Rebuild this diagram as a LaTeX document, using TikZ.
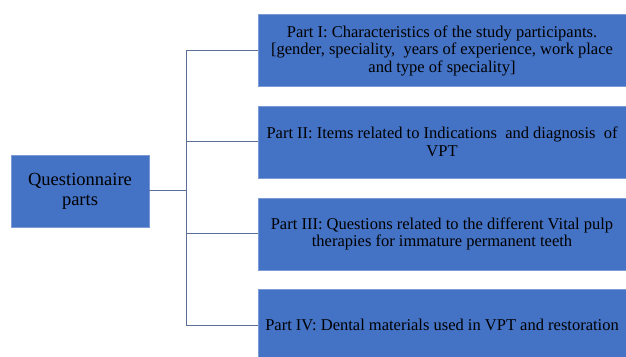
\documentclass[tikz,border=0pt]{standalone}
\usepackage{fontspec}
\setmainfont{Liberation Serif}
\definecolor{boxblue}{HTML}{4472C4}
\definecolor{boxedge}{HTML}{7C9AD6}
\definecolor{linkgrey}{HTML}{5A6E96}

\begin{document}
\begin{tikzpicture}[x=1pt, y=1pt,
    root node/.style={rectangle, draw=boxedge, fill=boxblue, line width=.8pt, minimum width=138pt, minimum height=72pt, align=center, inner sep=0pt,
        font=\fontsize{18.5}{20}\selectfont},
    part node/.style={rectangle, draw=boxedge, fill=boxblue, line width=.8pt, minimum width=368pt, minimum height=72pt, align=center, inner sep=0pt,
        font=\fontsize{16.5}{17.5}\selectfont},
    link/.style={draw=linkgrey, line width=1pt}]
\clip (0,0) rectangle (626,356);
\fill[white] (0,0) rectangle (626,356);

\node[root node] (quest) at (80,165) {Questionnaire\\parts};

\node[part node] (part1) at (442,305.5) {Part I: Characteristics of the study participants.\\
    {[}gender, speciality,\ \ years of experience, work place\\and type of speciality{]}};
\node[part node] (part2) at (442,214) {Part II: Items related to Indications\ \ and diagnosis\ \ of\\VPT};
\node[part node] (part3) at (442,122) {Part III: Questions related to the different Vital pulp\\therapies for immature permanent teeth};
\node[part node] (part4) at (442,31) {Part IV: Dental materials used in VPT and restoration};

% connectors
\coordinate (trunk) at (186,165);
\draw[link] (quest.east) -- (trunk);
\foreach \p in {part1,part2,part3,part4}
    \draw[link] (trunk) |- (\p.west);
\end{tikzpicture}
\end{document}
